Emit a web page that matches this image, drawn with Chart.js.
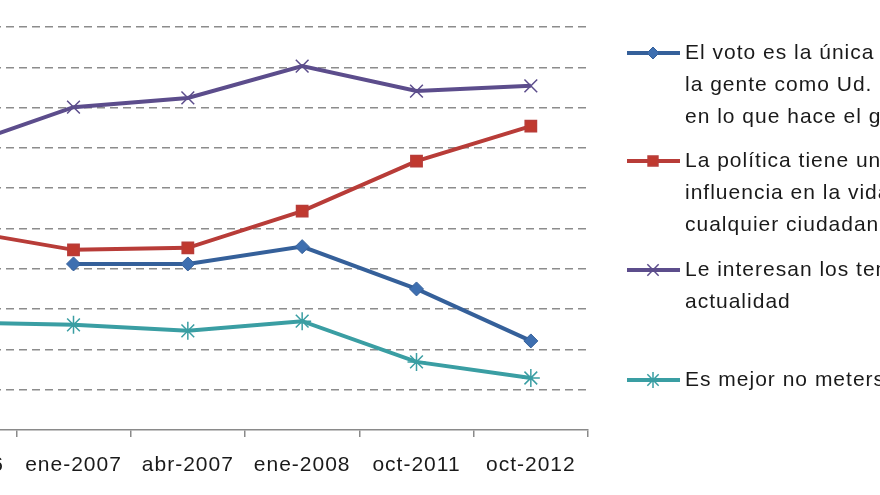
<!DOCTYPE html>
<html>
<head>
<meta charset="utf-8">
<script src="https://cdn.jsdelivr.net/npm/chart.js@4/dist/chart.umd.min.js"></script>
<style>
  html, body { margin: 0; padding: 0; background: #fff; }
  #view { position: relative; width: 880px; height: 495px; overflow: hidden; background: #fff; }
  #wrap { position: absolute; left: -150px; top: 0; width: 1300px; height: 495px; }
</style>
</head>
<body>
<div id="view"><div id="wrap"><canvas id="chart"></canvas></div></div>
<script>
const categories = ['oct-2006', 'ene-2007', 'abr-2007', 'ene-2008', 'oct-2011', 'oct-2012'];
const votoUnica = [null, 41.2, 41.2, 45.5, 35.0, 22.1];
const politicaInfluencia = [49.6, 44.7, 45.2, 54.3, 66.7, 75.4];
const interesActualidad = [70.2, 80.1, 82.4, 90.3, 84.1, 85.4];
const mejorNoMeterse = [26.7, 26.1, 24.6, 27.0, 16.9, 12.9];
const legendLines = [
  ['El voto es la única forma en que', 'la gente como Ud. puede influir', 'en lo que hace el gobierno'],
  ['La política tiene una gran', 'influencia en la vida de', 'cualquier ciudadano'],
  ['Le interesan los temas de', 'actualidad'],
  ['Es mejor no meterse en política']
];

const FONT = '"Liberation Sans", Arial, sans-serif';

const series = [
  { label: legendLines[0].join(' '), data: votoUnica, color: '#35609a', fill: '#3e6fb0', style: 'rectRot', radius: 7, bw: 1 },
  { label: legendLines[1].join(' '), data: politicaInfluencia, color: '#b83c38', fill: '#c0392f', style: 'rect', radius: 8, bw: 1.5 },
  { label: legendLines[2].join(' '), data: interesActualidad, color: '#5c4d8c', fill: '#5c4d8c', style: 'crossRot', radius: 9, bw: 1.5 },
  { label: legendLines[3].join(' '), data: mejorNoMeterse, color: '#3a9ea3', fill: '#3a9ea3', style: 'star', radius: 9, bw: 1.5 }
];

// wider letter spacing, closer to the original's text
const spacing = {
  id: 'spacing',
  beforeDraw(chart) { chart.ctx.letterSpacing = '1px'; }
};

// legend drawn by hand so labels can wrap like the original
const sideLegend = {
  id: 'sideLegend',
  afterDraw(chart) {
    const ctx = chart.ctx;
    const rows = [[53, 85, 117], [161, 193, 225], [270, 302], [380]];
    ctx.save();
    ctx.letterSpacing = '1px';
    ctx.font = '21px ' + FONT;
    ctx.textBaseline = 'middle';
    series.forEach((s, i) => {
      const y = rows[i][0];
      ctx.strokeStyle = s.color;
      ctx.lineWidth = 4;
      ctx.beginPath();
      ctx.moveTo(777, y);
      ctx.lineTo(830, y);
      ctx.stroke();
      ctx.fillStyle = s.fill;
      ctx.strokeStyle = i < 2 ? s.color : s.fill;
      ctx.lineWidth = s.bw;
      Chart.helpers.drawPoint(ctx, { pointStyle: s.style, radius: s.radius - 1, borderWidth: s.bw }, 803, y);
      ctx.fillStyle = '#1a1a1a';
      legendLines[i].forEach((t, j) => ctx.fillText(t, 835, rows[i][j]));
    });
    ctx.restore();
  }
};

new Chart(document.getElementById('chart'), {
  type: 'line',
  data: {
    labels: categories,
    datasets: series.map(s => ({
      label: s.label,
      data: s.data,
      borderColor: s.color,
      borderWidth: 4,
      pointStyle: s.style,
      pointRadius: s.radius,
      pointBackgroundColor: s.fill,
      pointBorderColor: s.style === 'rect' || s.style === 'rectRot' ? s.color : s.fill,
      pointBorderWidth: s.bw,
      tension: 0
    }))
  },
  options: {
    responsive: true,
    maintainAspectRatio: false,
    animation: false,
    layout: { padding: { left: 52, right: 562, top: 27, bottom: 0 } },
    plugins: { legend: { display: false }, tooltip: { enabled: false } },
    scales: {
      x: {
        offset: true,
        grid: { offset: true, drawOnChartArea: false, drawTicks: true, tickLength: 7, color: '#8a8a8a', lineWidth: 1.5 },
        border: { color: '#8a8a8a', width: 1.5 },
        ticks: { color: '#1a1a1a', font: { family: FONT, size: 21 }, padding: 16, maxRotation: 0, autoSkip: false },
        afterFit(scale) { scale.height = 65; }
      },
      y: {
        min: 0,
        max: 100,
        ticks: { display: false, stepSize: 10 },
        border: { display: false, dash: [8, 5] },
        grid: {
          color: c => c.tick.value === 0 ? 'rgba(0,0,0,0)' : '#8c8c8c',
          lineWidth: 1.5,
          drawTicks: false
        }
      }
    }
  },
  plugins: [spacing, sideLegend]
});
</script>
</body>
</html>
